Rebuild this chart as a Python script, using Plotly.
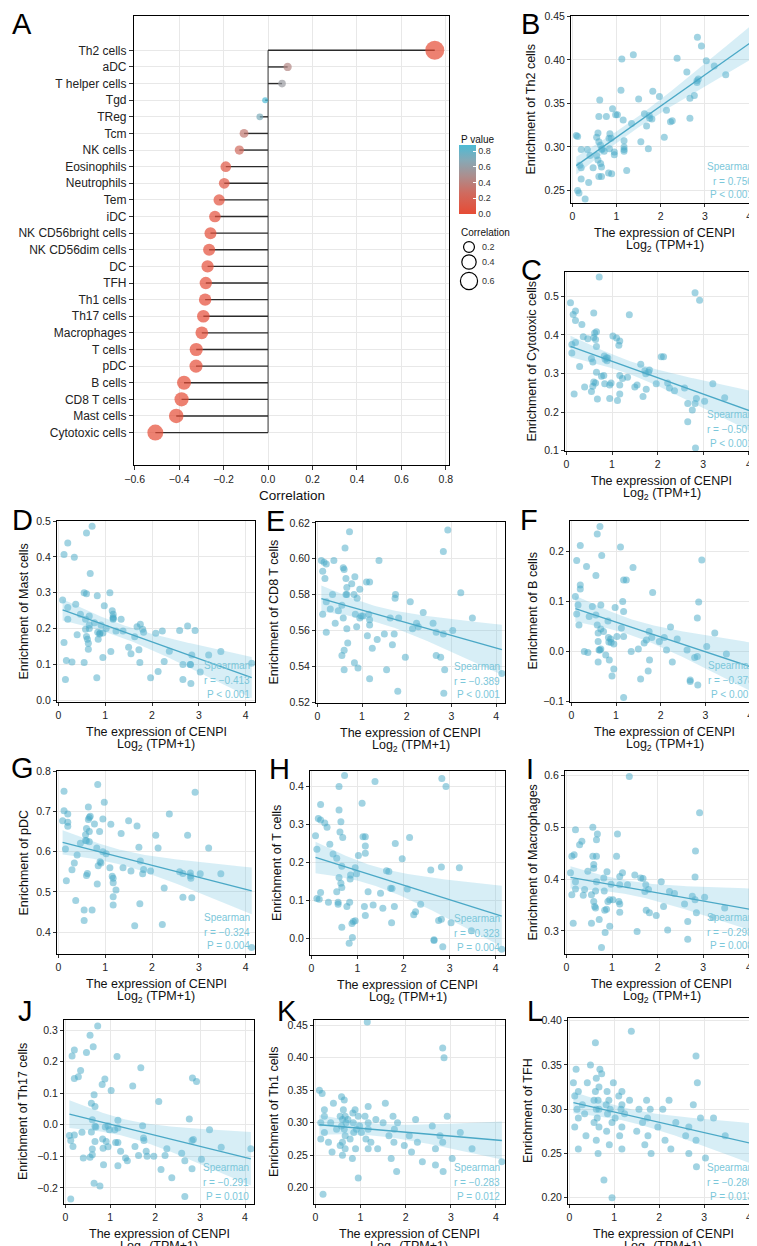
import numpy as np
import plotly.graph_objects as go

W, H = 757, 1246
OX, OY = 0, 0
FONT = "Arial, 'Liberation Sans', sans-serif"

# ------------------------------------------------------------------ data
cells = ["Th2 cells", "aDC", "T helper cells", "Tgd", "TReg", "Tcm", "NK cells",
         "Eosinophils", "Neutrophils", "Tem", "iDC", "NK CD56bright cells",
         "NK CD56dim cells", "DC", "TFH", "Th1 cells", "Th17 cells", "Macrophages",
         "T cells", "pDC", "B cells", "CD8 T cells", "Mast cells", "Cytotoxic cells"]
correlation = [0.750, 0.088, 0.063, -0.013, -0.037, -0.108, -0.129, -0.190, -0.197,
               -0.220, -0.239, -0.259, -0.265, -0.272, -0.280, -0.283, -0.291, -0.298,
               -0.323, -0.324, -0.378, -0.389, -0.413, -0.507]
p_value = [0.0, 0.44, 0.58, 0.88, 0.72, 0.35, 0.26, 0.09, 0.08, 0.05, 0.03, 0.02,
           0.02, 0.015, 0.013, 0.012, 0.010, 0.008, 0.004, 0.004, 0.001, 0.001, 0.001, 0.001]
pbar_ticks = [0.0, 0.2, 0.4, 0.6, 0.8]
size_levels = [0.2, 0.4, 0.6]

cenpi_log2 = [0.09, 0.12, 0.12, 0.15, 0.17, 0.20, 0.20, 0.20,
              0.29, 0.34, 0.37, 0.40, 0.47,
              0.55, 0.55, 0.58, 0.58, 0.60, 0.60, 0.60, 0.62, 0.64, 0.64, 0.66, 0.66, 0.66, 0.68,
              0.72, 0.77, 0.82, 0.83, 0.84, 0.85, 0.88, 0.89, 0.91, 0.95, 0.95, 0.98,
              1.02, 1.10, 1.12, 1.15, 1.17, 1.17, 1.17, 1.17, 1.23, 1.34,
              1.38, 1.50, 1.55, 1.63, 1.68, 1.72, 1.74, 1.75, 1.80, 1.82, 1.97,
              2.08, 2.13, 2.22, 2.26, 2.37, 2.59,
              2.66, 2.66, 2.76, 2.82, 2.83, 2.85, 2.82, 2.92,
              3.03, 3.21, 3.47, 4.13]

enr_th2 = [0.313, 0.312, 0.250, 0.247, 0.279, 0.297, 0.276, 0.263,
           0.240, 0.297, 0.259, 0.290, 0.276,
           0.311, 0.290, 0.316, 0.285, 0.335, 0.306, 0.266, 0.354, 0.302, 0.281, 0.297, 0.277, 0.266, 0.298,
           0.295, 0.335, 0.270, 0.310, 0.298, 0.315, 0.310, 0.269, 0.344, 0.294, 0.291, 0.337,
           0.337, 0.365, 0.401, 0.331, 0.297, 0.300, 0.307, 0.295, 0.273, 0.327,
           0.406, 0.355, 0.306, 0.338, 0.324, 0.298, 0.336, 0.333, 0.332, 0.364, 0.358,
           0.311, 0.342, 0.329, 0.330, 0.402, 0.386,
           0.333, 0.356, 0.359, 0.376, 0.426, 0.378, 0.374, 0.416,
           0.399, 0.393, 0.383, 0.402]
enr_cytotoxic = [0.483, 0.375, 0.353, 0.453, 0.247, 0.462, 0.437, 0.380,
                 0.318, 0.427, 0.395, 0.265, 0.390,
                 0.339, 0.253, 0.330, 0.267, 0.457, 0.393, 0.278, 0.405, 0.388, 0.275, 0.408, 0.370, 0.303, 0.234,
                 0.550, 0.293, 0.295, 0.345, 0.273, 0.337, 0.341, 0.333, 0.340, 0.270, 0.235, 0.275,
                 0.397, 0.392, 0.230, 0.373, 0.384, 0.295, 0.270, 0.247, 0.287, 0.290,
                 0.452, 0.265, 0.270, 0.324, 0.240, 0.307, 0.299, 0.259, 0.303, 0.309, 0.273,
                 0.343, 0.343, 0.275, 0.262, 0.255, 0.262,
                 0.222, 0.175, 0.205, 0.222, 0.107, 0.235, 0.509, 0.490,
                 0.228, 0.273, 0.237, 0.146]
enr_mast = [0.280, 0.407, 0.161, 0.058, 0.111, 0.439, 0.259, 0.226,
            0.107, 0.399, 0.268, 0.183, 0.240,
            0.300, 0.105, 0.226, 0.198, 0.467, 0.297, 0.178, 0.170, 0.142, 0.159, 0.235, 0.200, 0.210, 0.354,
            0.486, 0.216, 0.063, 0.292, 0.190, 0.170, 0.185, 0.188, 0.210, 0.119, 0.188, 0.264,
            0.200, 0.300, 0.136, 0.250, 0.226, 0.232, 0.240, 0.228, 0.193, 0.226,
            0.193, 0.148, 0.130, 0.177, 0.205, 0.141, 0.105, 0.212, 0.198, 0.190, 0.063,
            0.187, 0.080, 0.193, 0.108, 0.137, 0.195,
            0.100, 0.058, 0.207, 0.100, 0.047, 0.126, 0.100, 0.195,
            0.079, 0.126, 0.136, 0.103]
enr_cd8 = [0.599, 0.569, 0.593, 0.598, 0.589, 0.597, 0.559, 0.576,
           0.572, 0.580, 0.599, 0.564, 0.571,
           0.574, 0.546, 0.567, 0.595, 0.549, 0.594, 0.538, 0.606, 0.580, 0.589, 0.561, 0.584, 0.580, 0.553,
           0.615, 0.586, 0.580, 0.542, 0.590, 0.569, 0.562, 0.578, 0.539, 0.583, 0.567, 0.568,
           0.568, 0.587, 0.557, 0.569, 0.587, 0.563, 0.533, 0.566, 0.550, 0.555,
           0.599, 0.558, 0.538, 0.567, 0.552, 0.558, 0.578, 0.580, 0.526, 0.567, 0.545,
           0.576, 0.561, 0.564, 0.562, 0.570, 0.564,
           0.559, 0.546, 0.545, 0.604, 0.525, 0.538, 0.558, 0.616,
           0.560, 0.581, 0.567, 0.536]
enr_b = [0.110, 0.182, 0.075, 0.093, 0.053, 0.212, 0.133, 0.125,
         0.000, 0.170, -0.002, 0.070, 0.090,
         0.073, 0.152, 0.053, 0.235, 0.037, 0.020, -0.021, 0.003, 0.003, 0.250, 0.093, 0.045, 0.005, 0.192,
         0.040, -0.007, 0.061, 0.028, 0.019, -0.017, 0.025, 0.018, -0.049, -0.035, 0.015, 0.088,
         0.030, 0.209, 0.047, 0.100, 0.143, 0.080, -0.092, 0.030, 0.143, 0.000,
         0.168, 0.005, -0.055, 0.017, 0.023, -0.039, 0.040, -0.017, 0.028, 0.118, 0.020,
         0.028, 0.003, 0.049, -0.021, 0.025, 0.003,
         -0.060, -0.057, -0.012, 0.067, -0.067, 0.099, -0.010, 0.183,
         0.010, 0.037, -0.005, -0.045]
enr_pdc = [0.677, 0.750, 0.702, 0.607, 0.528, 0.694, 0.663, 0.673,
           0.555, 0.572, 0.479, 0.592, 0.621,
           0.455, 0.429, 0.642, 0.628, 0.627, 0.658, 0.541, 0.546, 0.680, 0.711, 0.685, 0.650, 0.625, 0.688,
           0.455, 0.669, 0.609, 0.520, 0.767, 0.565, 0.650, 0.575, 0.572, 0.681, 0.600, 0.723,
           0.595, 0.560, 0.668, 0.539, 0.534, 0.523, 0.488, 0.468, 0.505, 0.645,
           0.560, 0.677, 0.552, 0.416, 0.664, 0.611, 0.471, 0.577, 0.545, 0.556, 0.552,
           0.641, 0.609, 0.419, 0.510, 0.694, 0.550,
           0.546, 0.487, 0.641, 0.547, 0.534, 0.486, 0.540, 0.748,
           0.545, 0.609, 0.545, 0.362]
enr_t = [0.270, 0.105, 0.235, 0.316, 0.103, 0.312, 0.353, 0.121,
         0.304, 0.293, 0.095, 0.248, 0.222,
         0.211, 0.123, 0.095, 0.090, 0.338, 0.400, 0.160, 0.280, 0.307, 0.145, 0.029, 0.134, 0.190, 0.266,
         0.429, 0.084, -0.013, 0.095, 0.156, 0.167, 0.039, 0.002, 0.044, 0.046, 0.186, 0.170,
         0.218, 0.356, 0.268, 0.084, 0.268, 0.224, 0.060, 0.243, 0.123, 0.088,
         0.413, 0.119, 0.079, 0.178, 0.176, 0.132, 0.041, 0.131, 0.084, 0.250, 0.210,
         0.130, 0.266, 0.062, 0.070, 0.090, 0.180,
         -0.006, -0.004, 0.047, 0.188, 0.421, -0.022, 0.050, 0.400,
         0.041, 0.186, 0.020, -0.029]
enr_macro = [0.412, 0.370, 0.444, 0.315, 0.447, 0.495, 0.395, 0.381,
             0.466, 0.473, 0.369, 0.380, 0.415,
             0.370, 0.315, 0.500, 0.444, 0.428, 0.421, 0.357, 0.347, 0.344, 0.377, 0.476, 0.444, 0.395, 0.487,
             0.322, 0.268, 0.402, 0.377, 0.340, 0.297, 0.342, 0.414, 0.357, 0.309, 0.360, 0.390,
             0.360, 0.444, 0.487, 0.357, 0.352, 0.336, 0.405, 0.389, 0.412, 0.389,
             0.598, 0.408, 0.299, 0.402, 0.401, 0.376, 0.389, 0.340, 0.380, 0.335, 0.330,
             0.395, 0.347, 0.302, 0.376, 0.372, 0.352,
             0.318, 0.284, 0.367, 0.404, 0.454, 0.335, 0.360, 0.528,
             0.365, 0.326, 0.344, 0.310]
enr_th17 = [-0.034, -0.050, -0.235, 0.218, -0.069, 0.237, 0.147, -0.032,
            0.152, 0.172, -0.024, -0.105, 0.229,
            0.284, -0.103, -0.023, 0.068, -0.095, 0.016, -0.077, 0.247, 0.095, -0.185, -0.005, -0.053, 0.058, -0.007,
            0.313, -0.194, 0.128, -0.045, -0.074, -0.127, 0.145, -0.007, -0.053, -0.003, -0.070, -0.016,
            0.109, -0.016, -0.056, 0.216, -0.010, -0.056, -0.130, 0.014, -0.084, -0.105,
            -0.114, 0.123, -0.069, -0.097, 0.181, -0.003, -0.042, -0.050, -0.084, -0.100, -0.100,
            0.074, -0.142, -0.097, -0.076, -0.168, -0.090,
            -0.114, -0.227, 0.018, -0.139, 0.148, -0.047, -0.050, 0.137,
            -0.109, -0.016, -0.071, -0.076]
enr_th1 = [0.350, 0.300, 0.275, 0.345, 0.190, 0.320, 0.285, 0.310,
           0.270, 0.300, 0.255, 0.330, 0.290,
           0.310, 0.265, 0.340, 0.295, 0.305, 0.270, 0.250, 0.320, 0.335, 0.290, 0.280, 0.310, 0.260, 0.300,
           0.305, 0.275, 0.245, 0.315, 0.300, 0.285, 0.320, 0.260, 0.290, 0.310, 0.215, 0.295,
           0.285, 0.310, 0.275, 0.455, 0.300, 0.260, 0.325, 0.290, 0.270, 0.305,
           0.260, 0.300, 0.330, 0.280, 0.245, 0.310, 0.270, 0.290, 0.225, 0.300, 0.265,
           0.280, 0.255, 0.305, 0.270, 0.240, 0.295,
           0.235, 0.260, 0.280, 0.415, 0.225, 0.400, 0.270, 0.310,
           0.245, 0.285, 0.260, 0.240]
enr_tfh = [0.330, 0.315, 0.280, 0.345, 0.300, 0.320, 0.255, 0.290,
           0.305, 0.295, 0.270, 0.330, 0.350,
           0.310, 0.285, 0.375, 0.320, 0.300, 0.265, 0.335, 0.290, 0.310, 0.250, 0.325, 0.300, 0.280, 0.345,
           0.340, 0.220, 0.305, 0.275, 0.320, 0.295, 0.310, 0.260, 0.300, 0.200, 0.285, 0.330,
           0.290, 0.315, 0.270, 0.300, 0.305, 0.255, 0.320, 0.280, 0.295, 0.310,
           0.388, 0.275, 0.300, 0.285, 0.260, 0.310, 0.290, 0.270, 0.300, 0.250, 0.280,
           0.300, 0.265, 0.310, 0.255, 0.285, 0.270,
           0.250, 0.280, 0.305, 0.360, 0.235, 0.330, 0.265, 0.290,
           0.245, 0.290, 0.270, 0.213]

y_titles = ["Enrichment of Th2 cells", "Enrichment of Cytotoxic cells", "Enrichment of Mast cells",
            "Enrichment of CD8 T cells", "Enrichment of B cells", "Enrichment of pDC",
            "Enrichment of T cells", "Enrichment of Macrophages", "Enrichment of Th17 cells",
            "Enrichment of Th1 cells", "Enrichment of TFH"]
r_labels = ["r = 0.750", "r = \u22120.507", "r = \u22120.413", "r = \u22120.389", "r = \u22120.378",
            "r = \u22120.324", "r = \u22120.323", "r = \u22120.298", "r = \u22120.291",
            "r = \u22120.283", "r = \u22120.280"]
p_labels = ["P < 0.001", "P < 0.001", "P < 0.001", "P < 0.001", "P < 0.001",
            "P = 0.004", "P = 0.004", "P = 0.008", "P = 0.010", "P = 0.012", "P = 0.013"]

# ------------------------------------------------------------------ styles
TICKCOL = "#222222"
GRID = "#E8E8E8"
PT_COL = "rgba(68,168,198,0.5)"
LINE_COL = "#4AA8C6"
BAND_COL = "rgba(110,195,222,0.28)"
TXT_COL = "#7CC7DA"


def clamp(v):
    return min(1.0, max(0.0, v))


def px(x):
    return (x - OX) / W


def py(y):
    return 1 - (y - OY) / H


def xd(l, r):
    return [clamp(px(l)), clamp(px(r))]


def yd(t, b):
    return [clamp(py(b)), clamp(py(t))]


def ax_names(i):
    return ("xaxis" if i == 1 else f"xaxis{i}", "yaxis" if i == 1 else f"yaxis{i}",
            "x" if i == 1 else f"x{i}", "y" if i == 1 else f"y{i}")


fig = go.Figure()
layout = dict(width=W, height=H, margin=dict(l=0, r=0, t=0, b=0, autoexpand=False),
              paper_bgcolor="white", plot_bgcolor="white", showlegend=False,
              font=dict(family=FONT, color=TICKCOL))
annotations = []
shapes = []


def ann(text, x, y, size, xanchor="center", yanchor="middle", color="#111111", **kw):
    d = dict(text=text, x=px(x), y=py(y), xref="paper", yref="paper",
             xanchor=xanchor, yanchor=yanchor, showarrow=False,
             font=dict(family=FONT, size=size, color=color))
    d.update(kw)
    annotations.append(d)


# ------------------------------------------------------------------ panel A
A_box = (126, 8, 441, 457)
xa, ya, xr, yr = ax_names(1)
layout[xa] = dict(domain=xd(A_box[0], A_box[2]), anchor=yr, range=[-0.603, 0.814],
                  tickmode="linear", tick0=-0.6, dtick=0.2, tickformat=".1f",
                  ticks="outside", ticklen=4, tickcolor="#333", tickfont=dict(size=10.5, color=TICKCOL),
                  showgrid=True, gridcolor=GRID, zeroline=False,
                  showline=True, mirror=True, linecolor="black", linewidth=1.2)
layout[ya] = dict(domain=yd(A_box[1], A_box[3]), anchor=xr, type="category",
                  categoryorder="array", categoryarray=cells[::-1],
                  ticks="outside", ticklen=4, tickcolor="#333", tickfont=dict(size=12, color=TICKCOL),
                  showgrid=True, gridcolor=GRID, zeroline=False,
                  showline=True, mirror=True, linecolor="black", linewidth=1.2)

seg_x, seg_y = [], []
for c, v in zip(cells, correlation):
    seg_x += [0, v, None]
    seg_y += [c, c, None]
fig.add_trace(go.Scatter(x=[0, 0], y=[cells[-1], cells[0]], mode="lines",
                         line=dict(color="#3a3a3a", width=1), xaxis=xr, yaxis=yr, hoverinfo="skip"))
fig.add_trace(go.Scatter(x=seg_x, y=seg_y, mode="lines", line=dict(color="#2b2b2b", width=1.4),
                         xaxis=xr, yaxis=yr, hoverinfo="skip"))

abs_c = np.abs(np.array(correlation))
amin, amax = abs_c.min(), abs_c.max()


def dot_size(r):
    return (np.sqrt(6 ** 2 + (19 ** 2 - 6 ** 2) * (np.abs(np.asarray(r)) - amin) / (amax - amin))).tolist()


pcolors = [[0.0, "#E64B35"], [0.3, "#D06A5E"], [0.55, "#AC8E8E"], [0.78, "#86A9B6"], [1.0, "#4DBBD5"]]
fig.add_trace(go.Scatter(
    x=correlation, y=cells, mode="markers", xaxis=xr, yaxis=yr,
    marker=dict(size=dot_size(correlation), color=p_value, colorscale=pcolors, cmin=0, cmax=max(p_value),
                line=dict(width=0),
                colorbar=dict(x=px(451), xanchor="left", y=py(171.5), yanchor="middle",
                              len=69, lenmode="pixels", thickness=17, thicknessmode="pixels",
                              outlinewidth=0, xpad=0, ypad=0,
                              tickmode="array", tickvals=pbar_ticks,
                              ticktext=[f"{v:.1f}" for v in pbar_ticks],
                              ticks="inside", ticklen=3, tickcolor="white",
                              tickfont=dict(size=9, color="#333"))),
    hoverinfo="skip"))
ann("Correlation", (A_box[0] + A_box[2]) / 2, 488, 13.5)
ann("P value", 451, 131, 10, xanchor="left")
ann("Correlation", 451, 224, 10, xanchor="left")

# size legend keys (hollow circles sized with the same scale as the dots)
key_y = [239, 254, 273]
for lv, ky, d in zip(size_levels, key_y, dot_size(size_levels)):
    shapes.append(dict(type="circle", xref="paper", yref="paper",
                       x0=px(461 - d / 2), x1=px(461 + d / 2),
                       y0=py(ky + d / 2), y1=py(ky - d / 2),
                       line=dict(color="black", width=1.2)))
    ann(f"{lv:.1f}", 472, ky, 9, xanchor="left", color="#333")

# ------------------------------------------------------------------ scatter panels
panels = [
    dict(y=enr_th2, box=(563, 8, 750, 195), yr=[0.2355, 0.4505], t0=0.25, dt=0.05, fmt=".2f", toff=41),
    dict(y=enr_cytotoxic, box=(557, 264, 750, 443), yr=[0.099, 0.563], t0=0.1, dt=0.1, fmt=".1f", toff=34),
    dict(y=enr_mast, box=(49, 513, 247, 694), yr=[-0.005, 0.5005], t0=0.0, dt=0.1, fmt=".1f", toff=34),
    dict(y=enr_cd8, box=(308, 514, 497, 695), yr=[0.5195, 0.6205], t0=0.52, dt=0.02, fmt=".2f", toff=43),
    dict(y=enr_b, box=(562, 513, 751, 694), yr=[-0.101, 0.261], t0=-0.1, dt=0.1, fmt=".1f", toff=38),
    dict(y=enr_pdc, box=(49, 763, 247, 946), yr=[0.346, 0.8005], t0=0.4, dt=0.1, fmt=".1f", toff=34),
    dict(y=enr_t, box=(302, 763, 497, 947), yr=[-0.044, 0.441], t0=0.0, dt=0.1, fmt=".1f", toff=33),
    dict(y=enr_macro, box=(557, 763, 750, 946), yr=[0.2555, 0.6085], t0=0.3, dt=0.1, fmt=".1f", toff=33),
    dict(y=enr_th17, box=(56, 1012, 246, 1196), yr=[-0.251, 0.332], t0=-0.2, dt=0.1, fmt=".1f", toff=41),
    dict(y=enr_th1, box=(306, 1012, 497, 1196), yr=[0.175, 0.458], t0=0.2, dt=0.05, fmt=".2f", toff=40),
    dict(y=enr_tfh, box=(560, 1010, 750, 1196), yr=[0.193, 0.403], t0=0.2, dt=0.05, fmt=".2f", toff=40),
]
letters = [("A", 14, 16), ("B", 522, 16), ("C", 523, 262), ("D", 14, 512), ("E", 267, 513),
           ("F", 521, 512), ("G", 14, 760), ("H", 271, 761), ("I", 522, 761), ("J", 17, 1003),
           ("K", 279, 1003), ("L", 527, 1003)]

x_arr = np.array(cenpi_log2)


def fit_band(x, y):
    n = len(x)
    b1, b0 = np.polyfit(x, y, 1)
    xs = np.linspace(x.min(), x.max(), 100)
    yhat = b0 + b1 * xs
    resid = y - (b0 + b1 * x)
    s = np.sqrt((resid ** 2).sum() / (n - 2))
    sxx = ((x - x.mean()) ** 2).sum()
    se = s * np.sqrt(1 / n + (xs - x.mean()) ** 2 / sxx)
    t = 1.99
    return xs, yhat, yhat - t * se, yhat + t * se


for k, p in enumerate(panels):
    idx = k + 2
    xa, ya, xr, yr = ax_names(idx)
    l, t, r, b = p["box"]
    layout[xa] = dict(domain=xd(l, r), anchor=yr, range=[-0.03, 4.2],
                      tickmode="linear", tick0=0, dtick=1,
                      ticks="outside", ticklen=3, tickcolor="#333", tickfont=dict(size=10.5, color=TICKCOL),
                      showgrid=True, gridcolor=GRID, zeroline=False,
                      showline=True, mirror=True, linecolor="black", linewidth=1)
    layout[ya] = dict(domain=yd(t, b), anchor=xr, range=p["yr"],
                      tickmode="linear", tick0=p["t0"], dtick=p["dt"], tickformat=p["fmt"],
                      ticks="outside", ticklen=3, tickcolor="#333", tickfont=dict(size=10.5, color=TICKCOL),
                      showgrid=True, gridcolor=GRID, zeroline=False,
                      showline=True, mirror=True, linecolor="black", linewidth=1)
    y_arr = np.array(p["y"])
    fig.add_trace(go.Scatter(x=x_arr.tolist(), y=y_arr.tolist(), mode="markers", xaxis=xr, yaxis=yr,
                             marker=dict(size=7, color=PT_COL, line=dict(width=0)), hoverinfo="skip"))
    xs, yh, lo, hi = fit_band(x_arr, y_arr)
    fig.add_trace(go.Scatter(x=np.concatenate([xs, xs[::-1]]).tolist(),
                             y=np.concatenate([hi, lo[::-1]]).tolist(),
                             mode="lines", fill="toself", fillcolor=BAND_COL, line=dict(width=0),
                             xaxis=xr, yaxis=yr, hoverinfo="skip"))
    fig.add_trace(go.Scatter(x=xs.tolist(), y=yh.tolist(), mode="lines", line=dict(color=LINE_COL, width=1.3),
                             xaxis=xr, yaxis=yr, hoverinfo="skip"))
    ann(y_titles[k], l - p["toff"], (t + b) / 2, 12.5, textangle=-90)
    ann("The expression of CENPI", (l + r) / 2, b + 30, 12.5)
    ann("Log<sub>2</sub> (TPM+1)", (l + r) / 2, b + 43, 12.5)
    ann("Spearman", r - 3, b - 37, 10, xanchor="right", color=TXT_COL)
    ann(r_labels[k], r - 3, b - 22, 10, xanchor="right", color=TXT_COL)
    ann(p_labels[k], r - 3, b - 8, 10, xanchor="right", color=TXT_COL)

for lt, lx, ly in letters:
    ann(lt, lx, ly, 29, color="#000000")

layout["annotations"] = annotations
layout["shapes"] = shapes
fig.update_layout(**layout)
fig.write_html("out.html")
